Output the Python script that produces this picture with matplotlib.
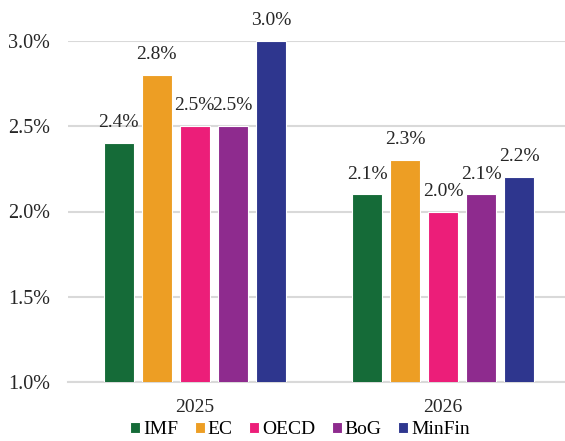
import numpy as np
import matplotlib.pyplot as plt

plt.rcParams['font.family'] = ['Liberation Serif', 'DejaVu Serif']

years = ['2025', '2026']
sources = ['IMF', 'EC', 'OECD', 'BoG', 'MinFin']
values = {
    'IMF': [2.4, 2.1],
    'EC': [2.8, 2.3],
    'OECD': [2.5, 2.0],
    'BoG': [2.5, 2.1],
    'MinFin': [3.0, 2.2],
}
colors = ['#156B38', '#ED9E24', '#EC1E79', '#8E2B8E', '#2E368E']

fig = plt.figure(figsize=(5.65, 4.41), dpi=100)
ax = fig.add_axes([68 / 565, 59 / 441, 497 / 565, 341 / 441])

x = np.arange(len(years))
width = 0.121
step = 0.153
for i, (name, c) in enumerate(zip(sources, colors)):
    pos = x + (i - 2) * step
    ax.bar(pos, values[name], width, color=c, edgecolor='white',
           linewidth=0.8, label=name, zorder=3)
    for xp, v in zip(pos, values[name]):
        ax.text(xp, v + 0.07, f'{v:.1f}%', ha='center', va='bottom', fontsize=14,
                color='#262626', clip_on=False)

ax.set_ylim(1.0, 3.0)
ax.set_xlim(-0.51, 1.49)
ax.set_yticks([1.0, 1.5, 2.0, 2.5, 3.0])
ax.set_yticklabels([f'{t:.1f}%' for t in [1.0, 1.5, 2.0, 2.5, 3.0]])
ax.set_xticks(x)
ax.set_xticklabels(years)
ax.tick_params(length=0, labelsize=14.5, colors='#262626')
ax.tick_params(axis='x', labelsize=14, pad=12)
ax.tick_params(axis='y', pad=13)
ax.grid(axis='y', color='#D9D9D9', linewidth=1.5, zorder=0)
for s in ['top', 'right', 'left']:
    ax.spines[s].set_visible(False)
ax.spines['bottom'].set_color('#D9D9D9')
ax.spines['bottom'].set_linewidth(1.5)

fig.legend(*ax.get_legend_handles_labels(), loc='center',
           bbox_to_anchor=(300 / 565, 11 / 441), ncol=5, frameon=False,
           fontsize=14, handlelength=0.52, handleheight=0.52, handletextpad=0.15,
           columnspacing=0.85, borderaxespad=0, borderpad=0)

plt.savefig('out.png', dpi=100)
